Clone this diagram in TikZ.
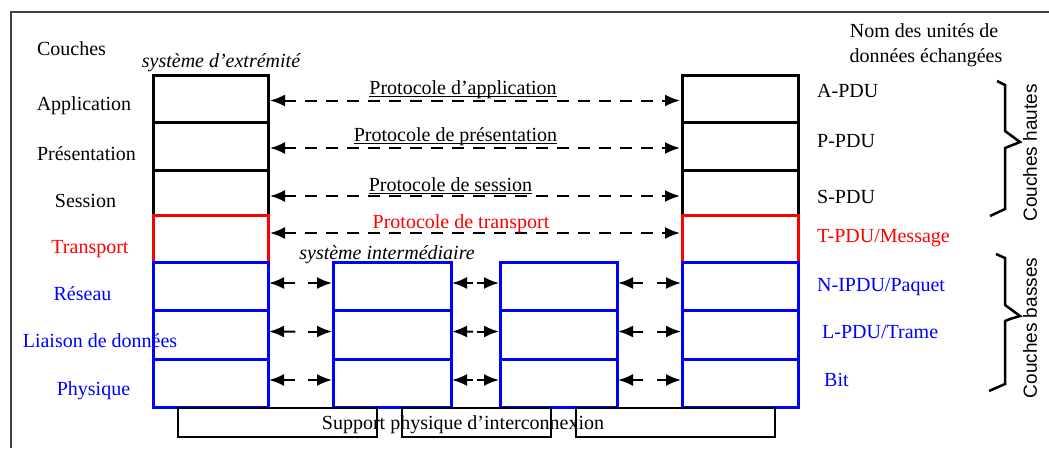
\documentclass[tikz,border=0pt]{standalone}
\usepackage{fontspec}
\setmainfont{Liberation Serif}
\setsansfont{Liberation Sans}
\usetikzlibrary{arrows.meta,calc}
\definecolor{pblue}{RGB}{0,0,255}
\definecolor{pred}{RGB}{255,0,0}
\begin{document}
\begin{tikzpicture}[x=1pt,y=-1pt,
  cell/.style={draw, line width=3pt, inner sep=0pt, outer sep=0pt, minimum width=#1},
  supbox/.style={draw, line width=1.5pt, inner sep=0pt, outer sep=0pt, minimum height=29pt, minimum width=#1},
  lbl/.style={font=\fontsize{20}{24}\selectfont, inner sep=0pt, anchor=base},
  lblw/.style={font=\fontsize{20}{24}\selectfont, inner sep=0pt, anchor=base west},
  ital/.style={font=\fontsize{20}{24}\selectfont\itshape, inner sep=0pt, anchor=base},
  side/.style={font=\sffamily\fontsize{19}{22}\selectfont, inner sep=0pt, rotate=90},
  dasharrow/.style={line width=2pt, dash pattern=on 12pt off 9pt, {Latex[length=15pt,width=12pt]}-{Latex[length=15pt,width=12pt]}, shorten <=2pt, shorten >=2pt},
  sarrow/.style={line width=2pt, -{Latex[length=15pt,width=12pt]}, shorten >=1pt},
  brace/.style={line width=2.5pt, line join=miter},
  frame/.style={line width=2pt, black!75}
]
\useasboundingbox (0,0) rectangle (1049,448);

% frame
\draw[frame] (10,12) -- (1049,12);
\draw[frame] (11,12) -- (11,448);

% left and right stacks
\foreach \n/\y/\h/\c in {1/98.5/47/black,2/146/48/black,3/192.5/45/black,4/238.5/47/pred,5/286/48/pblue,6/334.5/49/pblue,7/383/48/pblue}{
  \node[cell=115pt, draw=\c, minimum height=\h pt] (L\n) at (210.5,\y) {};
  \node[cell=116pt, draw=\c, minimum height=\h pt] (R\n) at (740,\y) {};
}
% intermediate systems
\foreach \n/\y/\h in {5/286/48,6/334.5/49,7/383/48}{
  \node[cell=118pt, draw=pblue, minimum height=\h pt] (A\n) at (392,\y) {};
  \node[cell=117pt, draw=pblue, minimum height=\h pt] (B\n) at (558.5,\y) {};
}

% support boxes
\node[supbox=199pt] (SA) at (277.5,422.5) {};
\node[supbox=149pt] (SB) at (476.5,422.5) {};
\node[supbox=199pt] (SC) at (675.5,422.5) {};
\node[lbl] (sup) at (463,429) {Support physique d'interconnexion};

% peer protocol arrows
\draw[dasharrow] ([yshift=-2pt]L1.east) -- ([yshift=-2pt]R1.west);
\draw[dasharrow] ([yshift=-2pt]L2.east) -- ([yshift=-2pt]R2.west);
\draw[dasharrow] ([yshift=-3.5pt]L3.east) -- ([yshift=-3.5pt]R3.west);
\draw[dasharrow] ([yshift=5.5pt]L4.east) -- ([yshift=5.5pt]R4.west);

\node[lbl] (pa) at (463,94) {Protocole d'application};
\node[lbl] (pp) at (455.5,141) {Protocole de présentation};
\node[lbl] (ps) at (450.5,191) {Protocole de session};
\node[lbl, text=pred] (pt) at (461,228) {Protocole de transport};
\foreach \p in {pa,pp,ps}{
  \draw[line width=0.8pt] ([yshift=-2pt]\p.base west) -- ([yshift=-2pt]\p.base east);
}

% hop-by-hop arrows
\foreach \r in {5,6,7}{
  \draw[sarrow] ($([yshift=3pt]L\r.east)!0.42!([yshift=3pt]A\r.west)$) -- ([yshift=3pt]L\r.east);
  \draw[sarrow] ($([yshift=3pt]L\r.east)!0.62!([yshift=3pt]A\r.west)$) -- ([yshift=3pt]A\r.west);
  \draw[sarrow] ($([yshift=3pt]A\r.east)!0.45!([yshift=3pt]B\r.west)$) -- ([yshift=3pt]A\r.east);
  \draw[sarrow] ($([yshift=3pt]A\r.east)!0.53!([yshift=3pt]B\r.west)$) -- ([yshift=3pt]B\r.west);
  \draw[sarrow] ($([yshift=3pt]B\r.east)!0.4!([yshift=3pt]R\r.west)$) -- ([yshift=3pt]B\r.east);
  \draw[sarrow] ($([yshift=3pt]B\r.east)!0.62!([yshift=3pt]R\r.west)$) -- ([yshift=3pt]R\r.west);
}

% left labels
\node[lbl] (couches) at (71.5,55) {Couches};
\node[ital] (se) at (221,67) {système d'extrémité};
\node[lbl] (lapp) at (84,110) {Application};
\node[lbl] (lpre) at (86.5,160) {Présentation};
\node[lbl] (lses) at (85.5,207) {Session};
\node[lbl, text=pred] (ltra) at (90,253) {Transport};
\node[lbl, text=pblue] (lres) at (82.5,300) {Réseau};
\node[lbl, text=pblue] (llia) at (100,347) {Liaison de données};
\node[lbl, text=pblue] (lphy) at (93.5,395) {Physique};
\node[ital] (si) at (387,259) {système intermédiaire};

% right labels
\node[lbl] (nom1) at (924,37) {Nom des unités de};
\node[lbl] (nom2) at (926,62) {données échangées};
\node[lblw] (apdu) at (817,97) {A-PDU};
\node[lblw] (ppdu) at (817,147) {P-PDU};
\node[lblw] (spdu) at (817,203) {S-PDU};
\node[lblw, text=pred] (tpdu) at (817,242) {T-PDU/Message};
\node[lblw, text=pblue] (npdu) at (817,291) {N-IPDU/Paquet};
\node[lblw, text=pblue] (lpdu) at (822,338) {L-PDU/Trame};
\node[lblw, text=pblue] (bit) at (824,386) {Bit};

% braces
\draw[brace] (997,81) -- (1005,85) -- (1005,131) -- (1020,142) -- (1010,146) -- (1005,148) -- (1005,209) -- (990,216);
\draw[brace] (996,254) -- (1005,258) -- (1005,305) -- (1020,316) -- (1010,319) -- (1005,321) -- (1005,384) -- (989,391);
\node[side] (hautes) at (1030,153) {Couches hautes};
\node[side] (basses) at (1030,328) {Couches basses};
\end{tikzpicture}
\end{document}
